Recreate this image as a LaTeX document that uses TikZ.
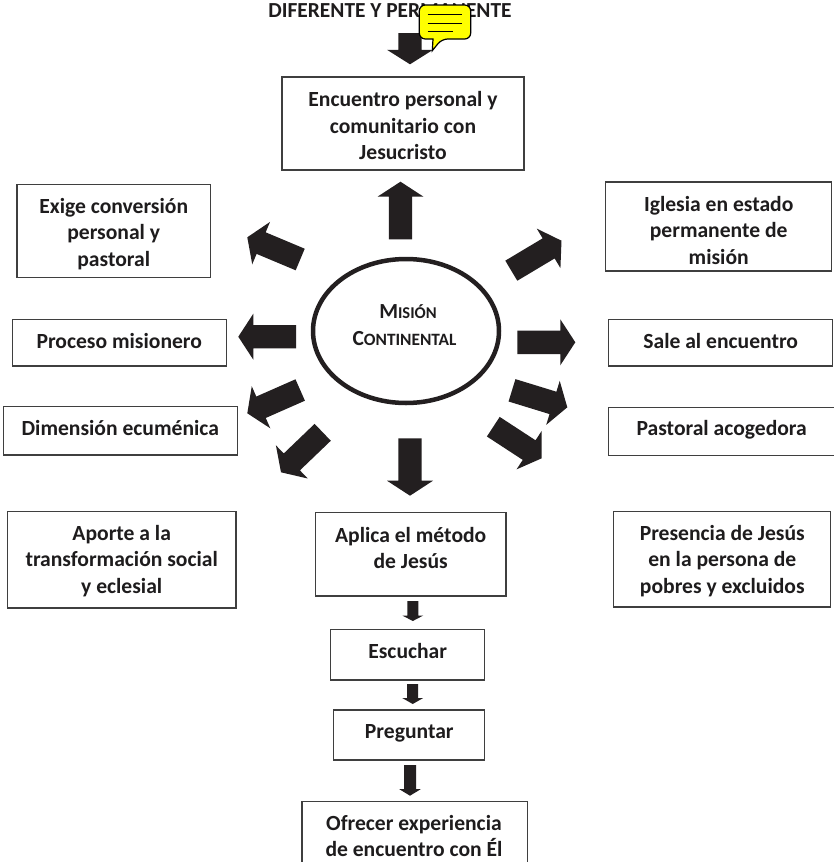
\documentclass[tikz,border=0pt]{standalone}
\usepackage{fontspec}
\setmainfont{Carlito}
\usetikzlibrary{calc,fit,shapes.geometric}
\definecolor{arrowink}{HTML}{231F20}
\definecolor{boxline}{HTML}{3F3F3F}
\definecolor{textink}{HTML}{1E1C1D}
\definecolor{noteyellow}{HTML}{FFFF00}
\tikzset{
  boxstyle/.style={draw=boxline,line width=1.1pt,inner sep=0pt,outer sep=0pt},
  txt/.style={text=textink,font=\bfseries\fontsize{21.6}{26.5}\selectfont,align=center,inner sep=0pt},
  headtxt/.style={text=textink,font=\bfseries\fontsize{21.4}{24}\selectfont,inner sep=0pt},
  blockarrow/.style={fill=arrowink,draw=none},
  ringstyle/.style={draw=arrowink,line width=4.5pt,inner sep=0pt,outer sep=0pt},
  notestyle/.style={draw=black,fill=noteyellow,line width=1.2pt,rounded corners=6pt},
  noteline/.style={draw=black,line width=1.1pt}
}
% name, tail, tip, half shaft, half head, head length
\newcommand{\blockarr}[6]{%
  \coordinate (#1t) at (#2);
  \coordinate (#1h) at (#3);
  \coordinate (#1b) at ($(#1h)!#6pt!(#1t)$);
  \path[blockarrow]
    ($(#1t)!#4pt!90:(#1h)$) -- ($(#1b)!#4pt!-90:(#1t)$) -- ($(#1b)!#5pt!-90:(#1t)$)
    -- (#1h) -- ($(#1b)!#5pt!90:(#1t)$) -- ($(#1b)!#4pt!90:(#1t)$)
    -- ($(#1t)!#4pt!-90:(#1h)$) -- cycle;
}
% name, corner, corner, text position, text
\newcommand{\tbox}[5]{%
  \node[boxstyle,fit={(#2) (#3)}] (#1) {};
  \node[txt] (#1text) at (#4) {#5};
}
\begin{document}
\begin{tikzpicture}[x=1pt,y=-1pt]
\useasboundingbox[fill=white] (0,0) rectangle (833,862);

\node[headtxt] (heading) at (390,11) {DIFERENTE Y PERMANENTE};

\tbox{top}{282,77}{524,170}{403,125.5}{Encuentro personal y\\comunitario con\\Jesucristo}
\tbox{exige}{17,184.3}{210.7,277.3}{113.7,233.7}{Exige conversión\\personal y\\pastoral}
\tbox{proceso}{12.7,319.3}{226.3,366}{119.3,340.5}{Proceso misionero}
\tbox{dimension}{3.3,406.7}{237.7,455}{120.3,428}{Dimensión ecuménica}
\tbox{aporte}{7.7,511.7}{236,608}{121.7,560.7}{Aporte a la\\transformación social\\y eclesial}
\tbox{iglesia}{605.7,182}{831.3,271}{718.7,230}{Iglesia en estado\\permanente de\\misión}
\tbox{sale}{608.7,319.3}{832.4,366}{720.7,340.5}{Sale al encuentro}
\tbox{pastoral}{608.7,407.7}{838,455.7}{721.7,429.7}{Pastoral acogedora}
\tbox{presencia}{613.3,511.7}{830.7,607}{722.3,560.7}{Presencia de Jesús\\en la persona de\\pobres y excluidos}
\tbox{aplica}{315.3,512.7}{506,596}{410.7,548}{Aplica el método\\de Jesús}
\tbox{escuchar}{330.7,629.7}{484.7,680}{407.7,651}{Escuchar}
\tbox{preguntar}{333.7,710}{484.7,760}{409.3,733}{Preguntar}
\tbox{ofrecer}{302,801.3}{527.7,870}{414,836}{Ofrecer experiencia\\de encuentro con Él}

\node[ringstyle,ellipse,minimum width=186pt,minimum height=144pt] (ring) at (406,331) {};
\node[text=textink,inner sep=0pt,font=\bfseries] (misiontext) at (408,312) {\fontsize{21.5}{24}\selectfont M\fontsize{16.5}{24}\selectfont ISIÓN};
\node[text=textink,inner sep=0pt,font=\bfseries] (continentaltext) at (404.5,338.3) {\fontsize{21.5}{24}\selectfont C\fontsize{17.3}{24}\selectfont ONTINENTAL};

\blockarr{ain}{410,33}{410,64.3}{11.7}{23}{14.5}
\blockarr{aup}{400.5,239.3}{400.5,181.7}{11.7}{23}{15}
\blockarr{aul}{300.2,259.5}{247.3,237.3}{11.7}{23}{15}
\blockarr{aur}{511.3,270.7}{561.5,240.7}{11.7}{23}{15}
\blockarr{alf}{296,336.7}{238.3,336.7}{11.7}{23}{15}
\blockarr{art}{517.3,342.3}{575.3,342.3}{11.7}{23}{15}
\blockarr{all}{300.2,390}{247.3,413.3}{11.7}{23}{15}
\blockarr{alr}{512,390.3}{567.3,407.3}{11.7}{23}{15}
\blockarr{abl}{322.7,432.3}{281,472.3}{11.7}{23}{15}
\blockarr{abr}{493.3,426.7}{541.7,458.3}{11.7}{23}{15}
\blockarr{adn}{410,438.3}{410,495.7}{11.7}{23}{15}
\blockarr{sa}{412.8,601}{412.8,621}{5.5}{10.5}{5.5}
\blockarr{sb}{412.7,684}{412.7,704}{5.5}{10.5}{6}
\blockarr{sc}{410,765}{410,795.7}{6}{10.7}{6.5}

\path[notestyle] (419.3,5) -- (470.7,5) -- (470.7,39) -- (441.7,39)
  [sharp corners] -- (432.3,50.7) -- (433,39) [rounded corners=6pt] -- (419.3,39) -- cycle;
\path[noteline] (427.7,14.7) -- (461.7,14.7);
\path[noteline] (427.7,23.3) -- (461.7,23.3);
\path[noteline] (427.7,31.7) -- (452.7,31.7);
\end{tikzpicture}
\end{document}
